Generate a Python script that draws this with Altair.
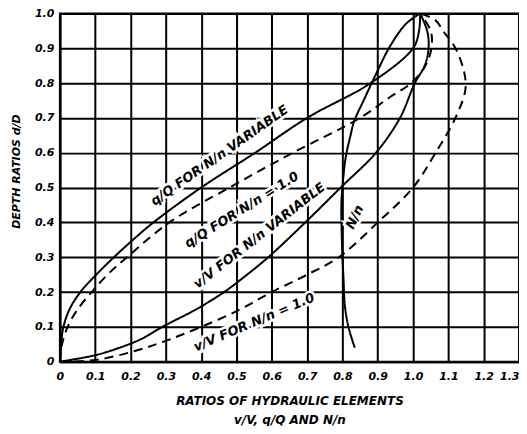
import altair as alt
import pandas as pd

# ---- curves (d/D vs ratio) ----
depth_qQ_var = [0, 0.03, 0.06, 0.1, 0.15, 0.2, 0.25, 0.3, 0.35, 0.4, 0.5, 0.6, 0.7, 0.8, 0.9, 0.95, 1.0]
ratio_qQ_var = [0, 0.002, 0.004, 0.01, 0.027, 0.058, 0.103, 0.153, 0.207, 0.265, 0.40, 0.553, 0.70, 0.88, 1.0, 1.017, 1.02]

depth_qQ_n1 = [0, 0.05, 0.1, 0.15, 0.2, 0.25, 0.3, 0.4, 0.5, 0.6, 0.7, 0.76, 0.8, 0.85, 0.9, 0.95, 1.0]
ratio_qQ_n1 = [0, 0.006, 0.022, 0.05, 0.09, 0.135, 0.19, 0.31, 0.48, 0.66, 0.85, 0.935, 0.995, 1.035, 1.052, 1.05, 1.02]

depth_vV_var = [0, 0.018, 0.037, 0.065, 0.1, 0.15, 0.2, 0.25, 0.3, 0.4, 0.5, 0.6, 0.7, 0.8, 0.85, 0.9, 0.95, 1.0]
ratio_vV_var = [0, 0.097, 0.16, 0.23, 0.29, 0.385, 0.465, 0.53, 0.59, 0.695, 0.795, 0.895, 0.963, 1.005, 1.033, 1.044, 1.04, 1.02]

depth_vV_n1 = [0, 0.005, 0.03, 0.06, 0.1, 0.15, 0.2, 0.25, 0.3, 0.4, 0.5, 0.6, 0.7, 0.78, 0.83, 0.9, 0.95, 0.98, 1.0]
ratio_vV_n1 = [0, 0.10, 0.21, 0.30, 0.40, 0.51, 0.60, 0.70, 0.79, 0.90, 1.0, 1.064, 1.12, 1.148, 1.145, 1.12, 1.085, 1.064, 1.02]

depth_nN = [0.04, 0.1, 0.16, 0.24, 0.3, 0.37, 0.45, 0.5, 0.585, 0.65, 0.69, 0.75, 0.83, 0.906, 0.97, 1.0]
ratio_nN = [0.835, 0.817, 0.807, 0.803, 0.80, 0.798, 0.797, 0.80, 0.809, 0.823, 0.833, 0.86, 0.897, 0.935, 0.98, 1.02]

# ---- curve labels ----
label_text = ["q/Q FOR N/n VARIABLE", "q/Q FOR N/n = 1.0", "v/V FOR N/n VARIABLE",
              "v/V FOR N/n = 1.0", "N/n"]
label_ratio = [0.452, 0.515, 0.565, 0.55, 0.835]
label_depth = [0.592, 0.436, 0.362, 0.113, 0.415]
label_angle = [325, 328, 322, 337, 295]

x_ticks = [0, 0.1, 0.2, 0.3, 0.4, 0.5, 0.6, 0.7, 0.8, 0.9, 1.0, 1.1, 1.2, 1.3]
y_ticks = [0, 0.1, 0.2, 0.3, 0.4, 0.5, 0.6, 0.7, 0.8, 0.9, 1.0]

rows = []
def add(name, style, ds, rs):
    for i, (d, r) in enumerate(zip(ds, rs)):
        rows.append(dict(curve=name, style=style, d=d, r=r, i=i))

add("qQ_var", "solid", depth_qQ_var, ratio_qQ_var)
add("qQ_n1", "dashed", depth_qQ_n1, ratio_qQ_n1)
add("vV_var", "solid", depth_vV_var, ratio_vV_var)
add("vV_n1", "dashed", depth_vV_n1, ratio_vV_n1)
add("nN", "solid", depth_nN, ratio_nN)
df = pd.DataFrame(rows)

lab_df = pd.DataFrame(dict(text=label_text, r=label_ratio, d=label_depth, angle=label_angle))

FONT = "DejaVu Sans"

x_scale = alt.Scale(domain=[0, 1.3], nice=False, zero=False)
y_scale = alt.Scale(domain=[0, 1.0], nice=False)

common = dict(
    labelExpr="datum.value == 0 ? '0' : format(datum.value, '.1f')",
    labelFontSize=11, labelFont=FONT, labelFontStyle="italic",
    labelFontWeight="bold", labelColor="black", labelFlush=False, labelOverlap=False,
    titleFont=FONT, titleFontStyle="italic", titleFontWeight="bold",
    titleColor="black",
    grid=True, gridColor="black", gridWidth=2, gridOpacity=1,
    ticks=False, domain=True, domainColor="black", domainWidth=2,
)

x_axis = alt.Axis(
    values=x_ticks, tickCount=14,
    title=["RATIOS OF HYDRAULIC ELEMENTS", "v/V,  q/Q  AND  N/n"],
    titleLineHeight=19, titlePadding=14, titleFontSize=12,
    labelPadding=9,
    labelAlign={"condition": {"test": "datum.value >= 1.29", "value": "right"}, "value": "center"},
    **common,
)
y_axis = alt.Axis(
    values=y_ticks, tickCount=11,
    title="DEPTH RATIOS d/D",
    titleFontSize=11, titleX=-38, titleY=158, titleAngle=270,
    titleAlign="center", titleBaseline="bottom",
    labelPadding=6, **common,
)

X = alt.X("r:Q", scale=x_scale, axis=x_axis)
Y = alt.Y("d:Q", scale=y_scale, axis=y_axis)

lines = alt.Chart(df).mark_line(color="black", strokeWidth=2, interpolate="catmull-rom").encode(
    x=X, y=Y,
    detail="curve:N",
    order="i:Q",
    strokeDash=alt.StrokeDash("style:N",
                              scale=alt.Scale(domain=["solid", "dashed"], range=[[1, 0], [9, 6]]),
                              legend=None),
)

halo = alt.Chart(lab_df).mark_text(
    font=FONT, fontStyle="italic", fontWeight="bold", fontSize=13,
    color="white", stroke="white", strokeWidth=5,
).encode(
    x=X, y=Y,
    text="text:N",
    angle=alt.Angle("angle:Q", scale=None),
)

labels = alt.Chart(lab_df).mark_text(
    font=FONT, fontStyle="italic", fontWeight="bold", fontSize=13, color="black",
).encode(
    x=X, y=Y,
    text="text:N",
    angle=alt.Angle("angle:Q", scale=None),
)

chart = alt.layer(lines, halo, labels).properties(
    width=460, height=349,
    autosize=alt.AutoSizeParams(type="none"),
    padding={"left": 52, "top": 5, "right": 0, "bottom": 64},
    background="white",
).configure_view(stroke="black", strokeWidth=2)

chart.save("out.html", embed_options={"renderer": "svg", "actions": False})
